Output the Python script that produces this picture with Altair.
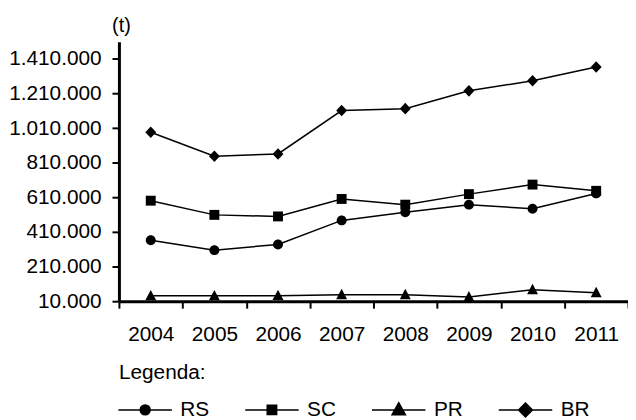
import altair as alt
import pandas as pd

anos = [2004, 2005, 2006, 2007, 2008, 2009, 2010, 2011]
series = ["RS", "SC", "PR", "BR"]
RS = [362000, 305000, 338000, 477000, 524000, 568000, 544000, 633000]
SC = [591000, 509000, 500000, 601000, 568000, 629000, 684000, 648000]
PR = [41000, 41000, 42000, 47000, 47000, 34000, 76000, 59000]
BR = [987000, 848000, 861000, 1112000, 1123000, 1226000, 1284000, 1364000]
y_ticks = [10000, 210000, 410000, 610000, 810000, 1010000, 1210000, 1410000]

vals = {"RS": RS, "SC": SC, "PR": PR, "BR": BR}
rows = []
for s in series:
    for a, v in zip(anos, vals[s]):
        rows.append({"ano": str(a), "serie": s, "valor": v})
df = pd.DataFrame(rows)

FONT = "Liberation Sans"

marker_paths = [
    "M1,0A1,1,0,1,1,-1,0A1,1,0,1,1,1,0Z",
    "M-1,-1H1V1H-1Z",
    "M0,-1.2L1.1,0.9L-1.1,0.9Z",
    "M0,-1.17L1.1,0L0,1.17L-1.1,0Z",
]
legend_paths = [
    "M-2.2,0H8.6M4.2,0A1,1,0,1,1,2.2,0A1,1,0,1,1,4.2,0Z",
    "M-2.2,0H8.6M2.25,-0.95H4.15V0.95H2.25Z",
    "M-2.2,0H8.6M3.2,-1.45L4.55,1.0H1.85Z",
    "M-2.2,0H8.6M3.2,-1.4L4.6,0L3.2,1.4L1.8,0Z",
]

x_enc = alt.X(
    "ano:O",
    bandPosition=0.5,
    scale=alt.Scale(type="band", paddingInner=0, paddingOuter=0),
    axis=alt.Axis(
        title=None,
        tickBand="extent",
        labelAngle=0,
        labelPadding=16,
        labelFontSize=21,
    ),
)
y_enc = alt.Y(
    "valor:Q",
    scale=alt.Scale(domain=[10000, 1510000], nice=False, zero=False),
    axis=alt.Axis(
        title="(t)",
        titleAngle=0,
        titleAlign="center",
        titleX=2,
        titleY=-10,
        titleBaseline="alphabetic",
        titleFontSize=20,
        titleFontWeight="normal",
        values=y_ticks,
        labelExpr="replace(format(datum.value, ',d'), /,/g, '.')",
        labelPadding=11,
        labelFontSize=21,
        grid=False,
    ),
)

base = alt.Chart(df)

lines = base.mark_line(color="black", strokeWidth=1.5).encode(
    x=x_enc, y=y_enc, detail="serie:N"
)

points = base.mark_point(filled=True, color="black", opacity=1, size=100).encode(
    x=x_enc,
    y=y_enc,
    shape=alt.Shape(
        "serie:N",
        scale=alt.Scale(domain=series, range=marker_paths),
        legend=None,
    ),
)

legend_layer = base.transform_filter("false").mark_point(
    filled=False, fill="black", stroke="black", color="black",
    strokeWidth=1.5, opacity=1, size=100
).encode(
    x=x_enc,
    y=y_enc,
    shape=alt.Shape(
        "serie:N",
        scale=alt.Scale(domain=series, range=legend_paths),
        legend=alt.Legend(
            title="Legenda:",
            orient="bottom",
            direction="horizontal",
            titleFontSize=21,
            titleFontWeight="normal",
            titlePadding=16,
            labelFontSize=21,
            labelOffset=41,
            columnPadding=32,
            symbolSize=100,
            symbolStrokeWidth=1.5,
            symbolOpacity=1,
            offset=18,
        ),
    ),
)

chart = (
    alt.layer(lines, points, legend_layer)
    .resolve_scale(shape="independent")
    .properties(
        width=514,
        height=262,
        padding={"left": 112, "top": 32, "right": 0, "bottom": 126},
        autosize=alt.AutoSizeParams(type="none"),
    )
    .configure_view(stroke=None)
    .configure_axis(
        domainColor="black",
        domainWidth=3,
        tickColor="black",
        tickWidth=2,
        tickSize=7,
        labelColor="black",
        titleColor="black",
        labelFont=FONT,
        titleFont=FONT,
    )
    .configure_legend(labelFont=FONT, titleFont=FONT, labelColor="black", titleColor="black")
    .configure_text(font=FONT)
)

chart.save("out.html", embed_options={"renderer": "svg", "actions": False})
